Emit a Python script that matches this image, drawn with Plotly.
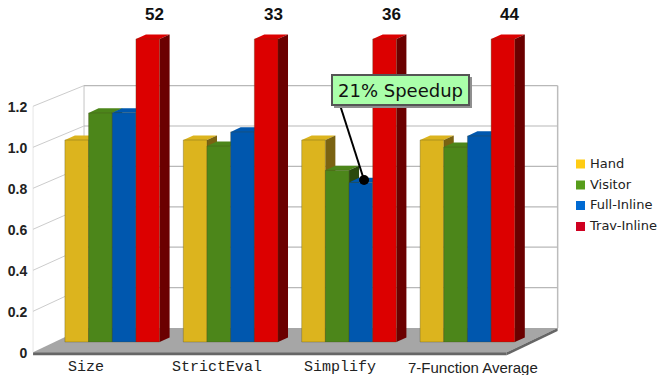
import plotly.graph_objects as go

CATEGORIES = ["Size", "StrictEval", "Simplify", "7-Function Average"]
HAND = [1.0, 1.0, 1.0, 1.0]
VISITOR = [1.134, 0.97, 0.85, 0.965]
FULL_INLINE = [1.135, 1.04, 0.79, 1.02]
TRAV_INLINE = [52, 33, 36, 44]
Y_TICKS = [0, 0.2, 0.4, 0.6, 0.8, 1.0, 1.2]
Y_TICK_TEXT = ["0", "0.2", "0.4", "0.6", "0.8", "1.0", "1.2"]
SERIES = ["Hand", "Visitor", "Full-Inline", "Trav-Inline"]
FRONT = ["#dcb41e", "#4c861a", "#0057ae", "#dc0000"]
SIDE = ["#7a6312", "#2a4a0e", "#003a78", "#6b0000"]
TOP = ["#dcb41e", "#4c861a", "#0057ae", "#dc0000"]
LEGEND = ["#ffcc14", "#579d1c", "#006ad2", "#cf0020"]
AXIS_CAP = 1.5

W, H = 659, 375
PX_X, X0_PX = 118.4, 112.25      # pixels per category, pixel of category 0
PX_Y, Y0_PX = 202.0, 342.0       # pixels per unit, pixel of value 0
BAR_GAP = 0.2


def dx(px):
    return px / PX_X


def dy(px):
    return px / PX_Y


x_range = [(0 - X0_PX) / PX_X, (W - X0_PX) / PX_X]
y_range = [(Y0_PX - H) / PX_Y, Y0_PX / PX_Y]


def poly(pts, fill, line=None, width=0, layer="below"):
    path = "M" + " L".join(f"{x:.5f},{y:.5f}" for x, y in pts) + " Z"
    return dict(type="path", path=path, xref="x", yref="y", fillcolor=fill,
                line=dict(color=line or fill, width=width), layer=layer)


def seg(a, b, color, width=1):
    return dict(type="line", xref="x", yref="y", x0=a[0], y0=a[1], x1=b[0], y1=b[1],
                line=dict(color=color, width=width), layer="below")


# Wall planes, relative to the plane of the bars
FL, BL = -0.5 - dx(20), -0.5 + dx(31)      # front-left / back-left x
FR, BR = 3.5 - dx(20), 3.5 + dx(31)        # front-right / back-right x
FY, BY = -dy(10.3), dy(14)                 # front / back floor level
FRONT_SCALE = 1.015
fwall = lambda v: FY + v * FRONT_SCALE
bwall = lambda v: BY + v

shapes = []
# floor
thick = dy(3)
shapes.append(poly([(FL, FY), (BL, BY), (BR, BY), (FR, FY)], "#a6a6a6"))
shapes.append(poly([(FL, FY), (FR, FY), (FR, FY - thick), (FL, FY - thick)], "#666666"))
shapes.append(poly([(FR, FY), (BR, BY), (BR, BY - thick), (FR, FY - thick)], "#666666"))
# walls
top_v = Y_TICKS[-1]
shapes.append(seg((FL, fwall(0)), (FL, fwall(top_v)), "#e6e6e6"))
shapes.append(seg((BL, bwall(0)), (BL, bwall(top_v)), "#d8d8d8", 1.5))
shapes.append(seg((BR, bwall(0)), (BR, bwall(top_v)), "#bcbcbc", 1.5))
for v in Y_TICKS[1:]:
    shapes.append(seg((FL, fwall(v)), (BL, bwall(v)), "#cccccc"))
    shapes.append(seg((BL, bwall(v)), (BR, bwall(v)), "#b8b8b8", 1.2))

values = [HAND, VISITOR, FULL_INLINE, [AXIS_CAP if v > AXIS_CAP else v for v in TRAV_INLINE]]
n = len(SERIES)
group_w = 1 - BAR_GAP
bar_w = group_w / n
ddx, ddy = dx(10), dy(4.6)
for c in range(len(CATEGORIES)):
    for s in range(n):
        v = values[s][c]
        xl = c - group_w / 2 + s * bar_w
        xr = xl + bar_w
        shapes.append(poly([(xl, v), (xl + ddx, v + ddy), (xr + ddx, v + ddy), (xr, v)], TOP[s]))
        shapes.append(poly([(xr, 0), (xr + ddx, ddy), (xr + ddx, v + ddy), (xr, v)], SIDE[s]))

fig = go.Figure()
for s in range(n):
    fig.add_trace(go.Bar(
        x=list(range(len(CATEGORIES))), y=values[s], name=SERIES[s], showlegend=False,
        marker=dict(color=FRONT[s], line=dict(color="rgba(70,70,30,0.3)", width=1)),
        hoverinfo="skip",
    ))

# legend entries
LEG_X = 580.5
LEG_TEXT_X = 590
LEG_Y = [164, 185, 205.5, 226.5]
for s in range(n):
    fig.add_trace(go.Scatter(
        x=[(LEG_X - X0_PX) / PX_X], y=[(Y0_PX - LEG_Y[s]) / PX_Y], mode="markers",
        name=SERIES[s], marker=dict(symbol="square", size=9, color=LEGEND[s]),
        showlegend=False, hoverinfo="skip",
    ))
    fig.add_trace(go.Scatter(
        x=[(LEG_TEXT_X - X0_PX) / PX_X], y=[(Y0_PX - LEG_Y[s] - 0.5) / PX_Y], mode="text",
        name=SERIES[s], text=[SERIES[s]], textposition="middle right",
        textfont=dict(family="DejaVu Sans", size=13, color="#222222"),
        showlegend=False, hoverinfo="skip",
    ))

# leader of the callout, ending on the Full-Inline bar of Simplify
lead_x = 2 + dx(364 - 349)
lead_v = (Y0_PX - 180) / PX_Y
fig.add_trace(go.Scatter(
    x=[dx(340 - X0_PX), lead_x], y=[dy(Y0_PX - 105), lead_v],
    mode="lines", line=dict(color="#000000", width=2), showlegend=False, hoverinfo="skip",
))
fig.add_trace(go.Scatter(
    x=[lead_x], y=[lead_v], mode="markers",
    marker=dict(color="#000000", size=10), showlegend=False, hoverinfo="skip",
))

annotations = []
# totals above the clipped bars
for c, v in enumerate(TRAV_INLINE):
    annotations.append(dict(
        x=c + group_w / 2 - bar_w / 2 + dx(7), y=AXIS_CAP, xref="x", yref="y", yshift=25,
        text=f"<b>{v}</b>", showarrow=False,
        font=dict(family="Liberation Sans", size=17, color="#111111"),
    ))
# category labels
LABEL_PX = [86, 217, 340, 473]
for i, name in enumerate(CATEGORIES):
    mono = i < 3
    annotations.append(dict(
        x=(LABEL_PX[i] - X0_PX) / PX_X, y=(Y0_PX - 367.7) / PX_Y, xref="x", yref="y",
        text=name, showarrow=False,
        font=dict(family="Liberation Mono" if mono else "Liberation Sans",
                  size=15, color="#222222"),
    ))
# callout
box_l, box_r, box_t, box_b = 331, 469, 74, 105
bx = lambda p: (p - X0_PX) / PX_X
by = lambda p: (Y0_PX - p) / PX_Y
shapes.append(dict(type="rect", xref="x", yref="y", x0=bx(box_l + 3), x1=bx(box_r + 3),
                   y0=by(box_t + 3), y1=by(box_b + 3), fillcolor="#8f8f8f",
                   line=dict(width=0), layer="above"))
annotations.append(dict(
    x=bx((box_l + box_r) / 2), y=by((box_t + box_b) / 2), xref="x", yref="y",
    text="21% Speedup", showarrow=False, width=box_r - box_l - 3, height=box_b - box_t - 3,
    bgcolor="#aaffaa", bordercolor="#555555", borderwidth=2, borderpad=0,
    font=dict(family="DejaVu Sans", size=18, color="#111111"),
))

fig.update_layout(
    width=W, height=H, margin=dict(l=0, r=0, t=0, b=0), paper_bgcolor="white", plot_bgcolor="white",
    barmode="group", bargap=BAR_GAP, bargroupgap=0, showlegend=False,
    shapes=shapes, annotations=annotations,
    xaxis=dict(range=x_range, visible=False, domain=[0, 1], fixedrange=True),
    yaxis=dict(range=y_range, domain=[0, 1], anchor="free", position=33 / W, showgrid=False,
               zeroline=False, showline=False, tickmode="array",
               tickvals=[fwall(v) - dy(1) for v in Y_TICKS], ticktext=Y_TICK_TEXT,
               ticks="outside", ticklen=3, tickcolor="rgba(0,0,0,0)",
               tickfont=dict(family="Liberation Sans", size=14, color="#222222", weight="bold"),
               fixedrange=True),
)
fig.write_html("out.html", config=dict(displayModeBar=False),
               post_script="document.body.style.margin='0';document.documentElement.style.overflow='hidden';")
